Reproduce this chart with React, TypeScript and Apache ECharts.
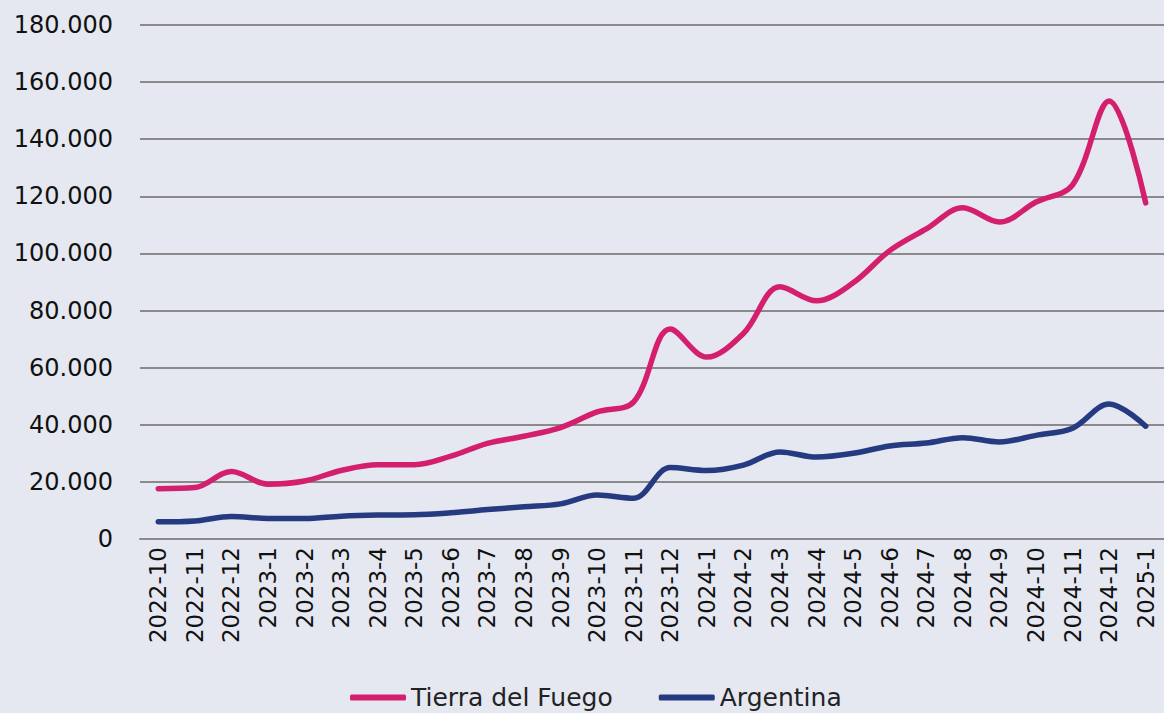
import React, { useEffect, useRef } from "react";
import * as echarts from "echarts";

const categories = [
  "2022-10", "2022-11", "2022-12", "2023-1", "2023-2", "2023-3", "2023-4", "2023-5",
  "2023-6", "2023-7", "2023-8", "2023-9", "2023-10", "2023-11", "2023-12", "2024-1",
  "2024-2", "2024-3", "2024-4", "2024-5", "2024-6", "2024-7", "2024-8", "2024-9",
  "2024-10", "2024-11", "2024-12", "2025-1",
];

const tierraDelFuego = [
  17600, 18000, 23600, 19200, 20300, 24000, 26000, 26000,
  29000, 33500, 36000, 39000, 44500, 48000, 73500, 63700,
  72000, 88300, 83400, 89700, 101000, 108600, 116000, 111000,
  118000, 124000, 153400, 117700,
];

const argentina = [
  6000, 6300, 7900, 7200, 7200, 8000, 8400, 8500,
  9200, 10300, 11300, 12300, 15400, 14300, 25000, 24000,
  25900, 30500, 28700, 30000, 32600, 33600, 35500, 34000,
  36300, 38800, 47300, 39500,
];

const FONT = "DejaVu Sans";

export default function App() {
  const ref = useRef<HTMLDivElement>(null);
  useEffect(() => {
    if (!ref.current) return;
    const chart = echarts.init(ref.current, null, { renderer: "svg" });
    chart.setOption({
      animation: false,
      backgroundColor: "#e5e8f0",
      grid: { left: 140, right: -6, top: 25, bottom: 174, containLabel: false },
      legend: {
        left: 345,
        bottom: -2,
        itemWidth: 56,
        itemHeight: 6,
        itemGap: 46,
        icon: "roundRect",
        textStyle: { fontFamily: FONT, fontSize: 25, color: "#222" },
        data: ["Tierra del Fuego", "Argentina"],
      },
      xAxis: {
        type: "category",
        data: categories,
        boundaryGap: true,
        axisLine: { lineStyle: { color: "#8a8a8a", width: 2 } },
        axisTick: { show: false },
        axisLabel: {
          interval: 0,
          rotate: 90,
          margin: 8,
          fontFamily: FONT,
          fontSize: 23,
          color: "#111",
        },
      },
      yAxis: {
        type: "value",
        min: 0,
        max: 180000,
        interval: 20000,
        axisLine: { show: false },
        axisTick: { show: false },
        splitLine: { lineStyle: { color: "#8a8a8a", width: 2 } },
        axisLabel: {
          margin: 27,
          fontFamily: FONT,
          fontSize: 24,
          color: "#111",
          formatter: (v: number) =>
            v === 0 ? "0" : v.toString().replace(/\B(?=(\d{3})+(?!\d))/g, "."),
        },
      },
      series: [
        {
          name: "Tierra del Fuego",
          type: "line",
          data: tierraDelFuego,
          smooth: 0.35,
          symbol: "none",
          color: "#d41f6f",
          lineStyle: { width: 5.5, color: "#d41f6f", cap: "round" },
        },
        {
          name: "Argentina",
          type: "line",
          data: argentina,
          smooth: 0.35,
          symbol: "none",
          color: "#253a80",
          lineStyle: { width: 5.5, color: "#253a80", cap: "round" },
        },
      ],
    });
    return () => chart.dispose();
  }, []);
  return (
    <div
      ref={ref}
      style={{ position: "absolute", left: 0, top: 0, width: 1164, height: 713 }}
    />
  );
}
